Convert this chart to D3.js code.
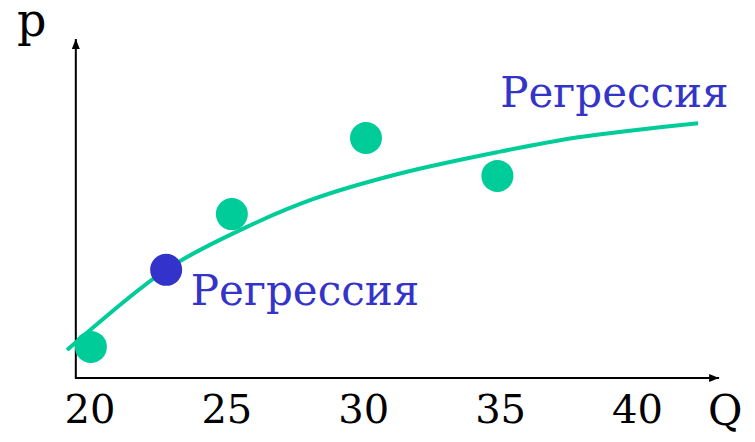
<!DOCTYPE html>
<html>
<head>
<meta charset="utf-8">
<title>Регрессия</title>
<script src="https://d3js.org/d3.v7.min.js"></script>
<style>
  body { margin: 0; background: #fff; }
  svg, svg text { font-family: "DejaVu Serif", serif; }
</style>
</head>
<body>
<div id="chart"></div>
<script>
// данные
const qTicks = [20, 25, 30, 35, 40];
const pointsQ = [20.05, 22.8, 25.2, 30.1, 34.9];
const pointsP = [0.92, 3.2, 4.85, 7.1, 5.98];
const pointKind = ["data", "fit", "data", "data", "data"];
const curveQ = [19.18, 22.79, 25.75, 28.16, 31.34, 34.89, 37.92, 42.23];
const curveP = [0.83, 3.2, 4.47, 5.29, 6.05, 6.68, 7.13, 7.54];
const labels = [
  { text: "Регрессия", q: 35.0, p: 8.02 },
  { text: "Регрессия", q: 23.7, p: 2.16 }
];

const w = 755, h = 442;
const green = "#00cc99", blue = "#3333cc", textBlue = "#3434c8";

const svg = d3.select("#chart").append("svg")
  .attr("width", w).attr("height", h);

const x = d3.scaleLinear().domain([20, 40]).range([89.5, 637]);
const y = d3.scaleLinear().domain([0, 10]).range([378, 40]);

// стрелки
const defs = svg.append("defs");
defs.append("marker")
  .attr("id", "arrow")
  .attr("viewBox", "0 0 10 8")
  .attr("refX", 10).attr("refY", 4)
  .attr("markerWidth", 10).attr("markerHeight", 8)
  .attr("markerUnits", "userSpaceOnUse")
  .attr("orient", "auto")
  .append("path").attr("d", "M0,0L10,4L0,8Z").attr("fill", "#000");

// оси
svg.append("line")
  .attr("x1", x(19.5)).attr("y1", y(0))
  .attr("x2", x(43)).attr("y2", y(0))
  .attr("stroke", "#000").attr("stroke-width", 2)
  .attr("marker-end", "url(#arrow)");
svg.append("line")
  .attr("x1", x(19.5)).attr("y1", y(0) + 1)
  .attr("x2", x(19.5)).attr("y2", y(10.03))
  .attr("stroke", "#000").attr("stroke-width", 2)
  .attr("marker-end", "url(#arrow)");

const xAxis = svg.append("g")
  .attr("transform", "translate(0," + y(0) + ")")
  .call(d3.axisBottom(x).tickValues(qTicks).tickSize(0).tickPadding(17));
xAxis.attr("font-size", 40);
xAxis.select(".domain").remove();
xAxis.selectAll("text")
  .attr("fill", "#000");

svg.append("text").text("p")
  .attr("x", 17).attr("y", 36)
  .attr("font-size", 46).attr("fill", "#000");
svg.append("text").text("Q")
  .attr("x", 708).attr("y", 425)
  .attr("font-size", 42).attr("fill", "#000");

// кривая регрессии
const curveData = curveQ.map((q, i) => ({ q: q, p: curveP[i] }));
const line = d3.line()
  .x(d => x(d.q)).y(d => y(d.p))
  .curve(d3.curveCatmullRom);
svg.append("path")
  .datum(curveData)
  .attr("d", line)
  .attr("fill", "none")
  .attr("stroke", green)
  .attr("stroke-width", 4);

// точки
const pts = pointsQ.map((q, i) => ({ q: q, p: pointsP[i], kind: pointKind[i] }));
svg.selectAll("circle.pt")
  .data(pts)
  .enter().append("circle")
  .attr("class", "pt")
  .attr("cx", d => x(d.q))
  .attr("cy", d => y(d.p))
  .attr("r", 16)
  .attr("fill", d => d.kind == "fit" ? blue : green);

// подписи
svg.selectAll("text.lbl")
  .data(labels)
  .enter().append("text")
  .attr("class", "lbl")
  .attr("x", d => x(d.q))
  .attr("y", d => y(d.p))
  .attr("font-size", 42)
  .attr("fill", textBlue)
  .text(d => d.text);
</script>
</body>
</html>
